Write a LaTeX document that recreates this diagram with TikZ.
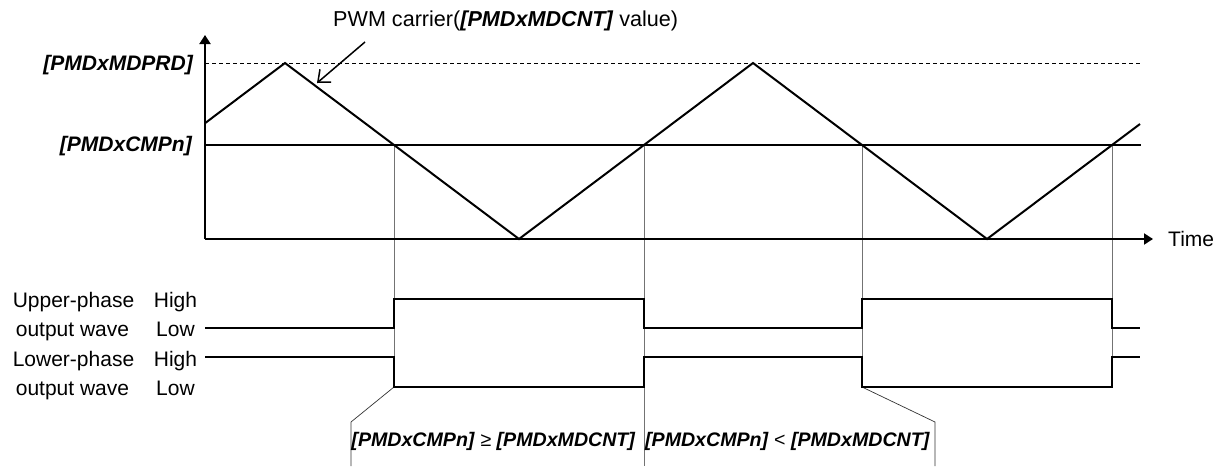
\documentclass[tikz,border=0pt]{standalone}
\usepackage{fontspec}
\setmainfont{Liberation Sans}
\usetikzlibrary{arrows.meta}
\begin{document}
\begin{tikzpicture}[x=1pt,y=-1pt,
  wave/.style={line width=2pt, line join=miter, line cap=rect},
  axisline/.style={line width=2pt, -{Triangle[length=9pt,width=11pt]}},
  guide/.style={line width=0.6pt, black!55},
  bracketline/.style={line width=0.7pt, black!80},
  lbl/.style={inner sep=0pt, font=\fontsize{21}{25}\selectfont},
  reg/.style={inner sep=0pt, font=\fontsize{21}{25}\selectfont\bfseries\itshape},
  cond/.style={inner sep=0pt, font=\fontsize{19.6}{24}\selectfont}]
\useasboundingbox (0,0) rectangle (1223,466);

% key coordinates
\coordinate (O) at (205,239);
\coordinate (ytop) at (205,35);
\coordinate (xend) at (1153,239);
\coordinate (c1) at (394,145);
\coordinate (c2) at (644,145);
\coordinate (c3) at (862,145);
\coordinate (c4) at (1112,145);

% guide lines
\draw[guide] (c1) -- (394,387);
\draw[guide] (c2) -- (644,466);
\draw[guide] (c3) -- (862,387);
\draw[guide] (c4) -- (1112,387);
\draw[bracketline] (394,387) -- (351,422) -- (351,466);
\draw[bracketline] (862,387) -- (935,422) -- (935,466);

% period level (dashed)
\draw[line width=1pt, dash pattern=on 4pt off 3pt] (205,63) -- (1140,63);
% compare level
\draw[wave] (205,145) -- (1140,145);

% axes
\draw[axisline] (O) -- (ytop);
\draw[axisline] (O) -- (xend);

% carrier
\draw[wave, line cap=butt] (205,123.2) -- (285,63) -- (519,239) -- (753,63) -- (987,239) -- (1140,124);

% output waves
\draw[wave, line cap=butt] (205,328) -- (394,328) -- (394,299) -- (644,299) -- (644,328) -- (862,328) -- (862,299) -- (1112,299) -- (1112,328) -- (1140,328);
\draw[wave, line cap=butt] (205,357) -- (394,357) -- (394,387) -- (644,387) -- (644,357) -- (862,357) -- (862,387) -- (1112,387) -- (1112,357) -- (1140,357);

% labels
\node[reg, anchor=base east] (prd) at (193,70.5) {[PMDxMDPRD]};
\node[reg, anchor=base east] (cmp) at (192,151) {[PMDxCMPn]};
\node[lbl, anchor=base west] (time) at (1168,246.5) {Time};
\node[lbl, anchor=base west, font=\fontsize{21.6}{25}\selectfont] (pwm) at (333,26) {PWM carrier(\textbf{\textit{[PMDxMDCNT]}} value)};
\coordinate (arrS) at (365,42);
\coordinate (arrE) at (317,83);
\draw[line width=1.5pt, -{Straight Barb[length=10pt,width=17pt]}] (arrS) -- (arrE);

\node[lbl, anchor=base] (up1) at (73.5,307) {Upper-phase};
\node[lbl, anchor=base] (up2) at (72.5,336) {output wave};
\node[lbl, anchor=base] (lo1) at (73.5,366) {Lower-phase};
\node[lbl, anchor=base] (lo2) at (72.5,395) {output wave};
\node[lbl, anchor=base] (uh) at (175.5,307) {High};
\node[lbl, anchor=base] (ul) at (175.5,336) {Low};
\node[lbl, anchor=base] (lh) at (175.5,366) {High};
\node[lbl, anchor=base] (ll) at (175.5,395) {Low};

\node[cond, anchor=base] (ge) at (493.5,446) {\textbf{\textit{[PMDxCMPn]}} ≥ \textbf{\textit{[PMDxMDCNT]}}};
\node[cond, anchor=base] (lt) at (787.5,446) {\textbf{\textit{[PMDxCMPn]}} < \textbf{\textit{[PMDxMDCNT]}}};
\end{tikzpicture}
\end{document}
